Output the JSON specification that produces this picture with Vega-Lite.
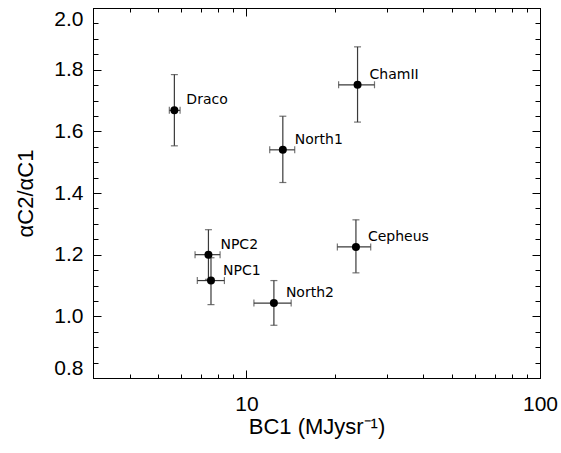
{
  "$schema": "https://vega.github.io/schema/vega-lite/v6.json",
  "width": 447,
  "height": 370,
  "autosize": {"type": "none"},
  "padding": {"left": 93, "top": 8, "right": 21, "bottom": 75},
  "background": "white",
  "config": {
    "view": {"stroke": "black", "strokeWidth": 1},
    "axis": {"domainColor": "black", "tickColor": "black", "labelColor": "black", "titleColor": "black", "grid": false, "labelFont": "Liberation Sans", "titleFont": "Liberation Sans", "labelFontSize": 21, "titleFontSize": 22, "titleFontWeight": "normal", "tickWidth": 1}
  },
  "data": {"values": [
    {"name": "Draco", "x": 5.68, "xlo": 5.46, "xhi": 5.94, "y": 1.668, "ylo": 1.553, "yhi": 1.784},
    {"name": "ChamII", "x": 23.9, "xlo": 20.6, "xhi": 27.3, "y": 1.751, "ylo": 1.630, "yhi": 1.874},
    {"name": "North1", "x": 13.3, "xlo": 12.0, "xhi": 14.6, "y": 1.540, "ylo": 1.434, "yhi": 1.649},
    {"name": "Cepheus", "x": 23.6, "xlo": 20.4, "xhi": 26.5, "y": 1.225, "ylo": 1.141, "yhi": 1.313},
    {"name": "NPC2", "x": 7.42, "xlo": 6.68, "xhi": 8.13, "y": 1.200, "ylo": 1.120, "yhi": 1.281},
    {"name": "NPC1", "x": 7.57, "xlo": 6.80, "xhi": 8.41, "y": 1.116, "ylo": 1.038, "yhi": 1.190},
    {"name": "North2", "x": 12.4, "xlo": 10.6, "xhi": 14.2, "y": 1.043, "ylo": 0.971, "yhi": 1.116}
  ]},
  "resolve": {"axis": {"x": "independent", "y": "independent"}},
  "layer": [
    {
      "mark": {"type": "rule", "color": "#3a3a3a", "strokeWidth": 1.2},
      "encoding": {
        "x": {"field": "x", "type": "quantitative",
          "scale": {"type": "log", "domain": [3, 100], "nice": false, "zero": false},
          "axis": {"orient": "bottom", "title": "BC1 (MJysr⁻¹)", "values": [10, 100],
            "tickSize": -8, "labelPadding": 23, "labelFlush": false, "labelOverlap": false, "titlePadding": 2}},
        "y": {"field": "ylo", "type": "quantitative",
          "scale": {"domain": [0.8, 2.0], "nice": false, "zero": false},
          "axis": {"orient": "left", "title": "αC2/αC1", "values": [0.8, 1.0, 1.2, 1.4, 1.6, 1.8, 2.0],
            "format": ".1f", "tickSize": -8, "labelPadding": 18, "labelOverlap": false, "labelFlush": true, "titlePadding": 16}},
        "y2": {"field": "yhi"}
      }
    },
    {
      "mark": {"type": "rule", "color": "#3a3a3a", "strokeWidth": 1.2},
      "encoding": {
        "x": {"field": "xlo", "type": "quantitative", "scale": {"type": "log", "domain": [3, 100], "nice": false, "zero": false},
          "axis": {"orient": "top", "title": null, "labels": false, "values": [10, 100], "tickSize": -8}},
        "x2": {"field": "xhi"},
        "y": {"field": "y", "type": "quantitative", "scale": {"domain": [0.8, 2.0], "nice": false, "zero": false},
          "axis": {"orient": "right", "title": null, "labels": false, "values": [0.8, 1.0, 1.2, 1.4, 1.6, 1.8, 2.0], "tickSize": -8}}
      }
    },
    {
      "transform": [{"fold": ["ylo", "yhi"], "as": ["k", "v"]}],
      "mark": {"type": "tick", "orient": "horizontal", "color": "#3a3a3a", "size": 7, "thickness": 1.2},
      "encoding": {
        "x": {"field": "x", "type": "quantitative",
          "axis": {"orient": "bottom", "title": null, "labels": false, "domain": false, "values": [3,4,5,6,7,8,9,20,30,40,50,60,70,80,90], "tickSize": -4}},
        "y": {"field": "v", "type": "quantitative",
          "axis": {"orient": "left", "title": null, "labels": false, "domain": false, "values": [0.85,0.9,0.95,1.05,1.1,1.15,1.25,1.3,1.35,1.45,1.5,1.55,1.65,1.7,1.75,1.85,1.9,1.95], "tickSize": -5}}
      }
    },
    {
      "transform": [{"fold": ["xlo", "xhi"], "as": ["k", "v"]}],
      "mark": {"type": "tick", "orient": "vertical", "color": "#3a3a3a", "size": 7, "thickness": 1.2},
      "encoding": {
        "x": {"field": "v", "type": "quantitative",
          "axis": {"orient": "top", "title": null, "labels": false, "domain": false, "values": [3,4,5,6,7,8,9,20,30,40,50,60,70,80,90], "tickSize": -4}},
        "y": {"field": "y", "type": "quantitative",
          "axis": {"orient": "right", "title": null, "labels": false, "domain": false, "values": [0.85,0.9,0.95,1.05,1.1,1.15,1.25,1.3,1.35,1.45,1.5,1.55,1.65,1.7,1.75,1.85,1.9,1.95], "tickSize": -5}}
      }
    },
    {
      "mark": {"type": "circle", "color": "black", "opacity": 1, "size": 64},
      "encoding": {
        "x": {"field": "x", "type": "quantitative", "axis": null},
        "y": {"field": "y", "type": "quantitative", "axis": null}
      }
    },
    {
      "mark": {"type": "text", "align": "left", "baseline": "middle", "dx": 12, "dy": -10, "font": "DejaVu Sans", "fontSize": 14, "color": "black"},
      "encoding": {
        "x": {"field": "x", "type": "quantitative", "axis": null},
        "y": {"field": "y", "type": "quantitative", "axis": null},
        "text": {"field": "name"}
      }
    }
  ]
}
